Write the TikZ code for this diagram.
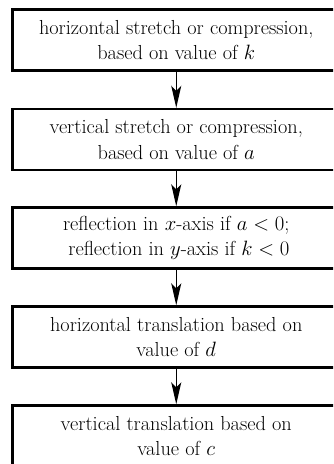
\documentclass[tikz,border=0pt]{standalone}
\usepackage{fontspec}
\usetikzlibrary{arrows.meta}
\tikzset{
  stagebox/.style={draw=black, line width=2.4pt, minimum width=327.5pt, minimum height=61pt,
    inner sep=0pt, align=center, font=\fontsize{20.3}{25.5}\selectfont, text=black},
  flowarrow/.style={line width=1.3pt, -{Stealth[length=22pt,width=10pt,inset=5pt]}}
}
\begin{document}
\begin{tikzpicture}[x=1pt,y=1pt]
\useasboundingbox (0,0) rectangle (333,464);
\clip (0,0) rectangle (333,464);
\node[stagebox] (b1) at (176.25,424) {horizontal stretch or compression,\\based on value of $k$};
\node[stagebox] (b2) at (176.25,324.5) {vertical stretch or compression,\\based on value of $a$};
\node[stagebox, align=right] (b3) at (176.25,226) {reflection in $x$-axis if $a<0$;\\reflection in $y$-axis if $k<0$};
\node[stagebox] (b4) at (176.25,127) {horizontal translation based on\\value of $d$};
\node[stagebox] (b5) at (176.25,28) {vertical translation based on\\value of $c$};
\draw[flowarrow] (b1) -- (b2);
\draw[flowarrow] (b2) -- (b3);
\draw[flowarrow] (b3) -- (b4);
\draw[flowarrow] (b4) -- (b5);
\end{tikzpicture}
\end{document}
